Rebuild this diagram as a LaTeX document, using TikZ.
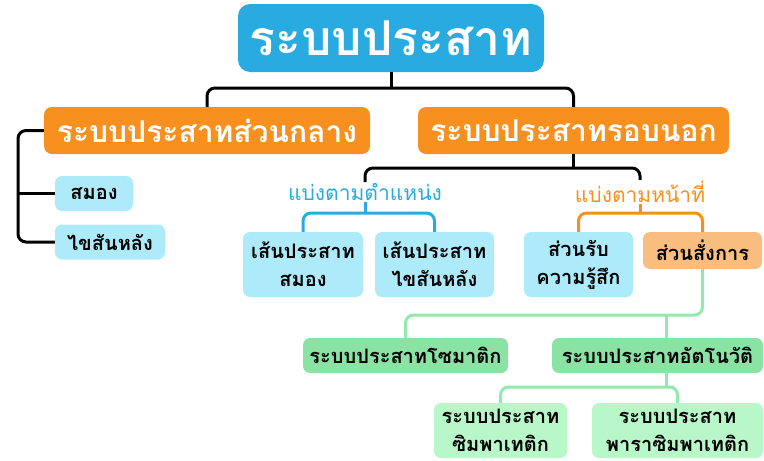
\documentclass[tikz,border=0pt]{standalone}
\usepackage{fontspec}
\newfontfamily\thaifont[Script=Thai]{Loma}
\usepackage{tikz}
\usetikzlibrary{positioning}

\definecolor{titleblue}{HTML}{29ABE2}
\definecolor{mainorange}{HTML}{F7901E}
\definecolor{lightcyan}{HTML}{AEEBFA}
\definecolor{lightorange}{HTML}{F8BD7F}
\definecolor{midgreen}{HTML}{8AE3A3}
\definecolor{palegreen}{HTML}{B8F7C8}
\definecolor{linegreen}{HTML}{93E8AC}

\tikzset{
  topbox/.style={fill=titleblue,text=white,rounded corners=12pt,inner sep=0pt,
    minimum width=306pt,minimum height=68pt,font=\thaifont\fontsize{48}{52}\selectfont\bfseries},
  mainbox/.style={fill=mainorange,text=white,rounded corners=8pt,inner sep=0pt,
    minimum height=47pt,font=\thaifont\fontsize{30}{34}\selectfont\bfseries},
  subbox/.style={fill=lightcyan,text=black,rounded corners=7pt,inner sep=0pt,align=center,
    font=\thaifont\fontsize{20}{28}\selectfont\bfseries},
  bylabel/.style={inner sep=1pt,font=\thaifont\fontsize{21}{24}\selectfont},
  conn/.style={line width=3pt,rounded corners=8pt},
}

\begin{document}
\begin{tikzpicture}[x=1pt,y=1pt]

\useasboundingbox (0,0) rectangle (764,-461);

% top and first level
\node[topbox] (title) at (391,-38) {ระบบประสาท};
\node[mainbox,minimum width=326pt] (central) at (207,-130.5) {ระบบประสาทส่วนกลาง};
\node[mainbox,minimum width=311pt] (peripheral) at (573.5,-130.5) {ระบบประสาทรอบนอก};

\coordinate (tj) at (391,-88);
\draw[conn] (title.south) -- (tj);
\draw[conn] (central.north) |- (tj) -| (peripheral.north);

% central nervous system
\node[subbox,minimum width=78pt,minimum height=35pt] (brain) at (94,-193.5) {สมอง};
\node[subbox,minimum width=110pt,minimum height=35pt] (spinal) at (110,-242) {ไขสันหลัง};

\coordinate (lb) at (18,-242);
\draw[conn] (central.west) -| (lb) -- (spinal.west);
\draw[conn] (brain.west) -- (brain.west -| lb);

% peripheral nervous system
\node[bylabel,text=titleblue] (bypos) at (365,-192) {แบ่งตามตำแหน่ง};
\node[bylabel,text=mainorange] (byfn) at (640,-192) {แบ่งตามหน้าที่};

\coordinate (pj) at (573.5,-168);
\draw[conn] (peripheral.south) -- (pj);
\draw[conn] (bypos.north) |- (pj) -| (byfn.north);

\node[subbox,minimum width=120pt,minimum height=65pt] (cranial) at (303,-264.5) {เส้นประสาท\\สมอง};
\node[subbox,minimum width=119pt,minimum height=65pt] (spinalnerve) at (434.5,-264.5) {เส้นประสาท\\ไขสันหลัง};
\node[subbox,minimum width=109pt,minimum height=65pt] (sensory) at (578.5,-264.5) {ส่วนรับ\\ความรู้สึก};
\node[subbox,fill=lightorange,minimum width=119pt,minimum height=37pt] (motor) at (702.5,-250.5) {ส่วนสั่งการ};

\coordinate (pj2) at (365,-213);
\coordinate (pj3) at (640,-213);
\draw[conn,titleblue] (bypos.south) -- (pj2);
\draw[conn,titleblue] (cranial.north) |- (pj2) -| (spinalnerve.north);
\draw[conn,mainorange] (byfn.south) -- (pj3);
\draw[conn,mainorange] (sensory.north) |- (pj3) -| (motor.north);

% motor division
\node[subbox,fill=midgreen,minimum width=205pt,minimum height=35pt] (somatic) at (405.5,-355.5) {ระบบประสาทโซมาติก};
\node[subbox,fill=midgreen,minimum width=211pt,minimum height=35pt] (autonomic) at (657.5,-355.5) {ระบบประสาทอัตโนวัติ};

\coordinate (gj) at (666,-315);
\draw[conn,linegreen] (motor.south) |- (gj) -| (somatic.north);
\draw[conn,linegreen] (gj) -- (gj |- autonomic.north);

\node[subbox,fill=palegreen,minimum width=133pt,minimum height=55pt] (sympathetic) at (500.5,-430.5) {ระบบประสาท\\ซิมพาเทติก};
\node[subbox,fill=palegreen,minimum width=171pt,minimum height=55pt] (parasym) at (677.5,-430.5) {ระบบประสาท\\พาราซิมพาเทติก};

\coordinate (gj2) at (666,-387);
\draw[conn,linegreen] (gj |- autonomic.south) -- (gj2);
\draw[conn,linegreen] (sympathetic.north) |- (gj2) -| (parasym.north);

\end{tikzpicture}
\end{document}
